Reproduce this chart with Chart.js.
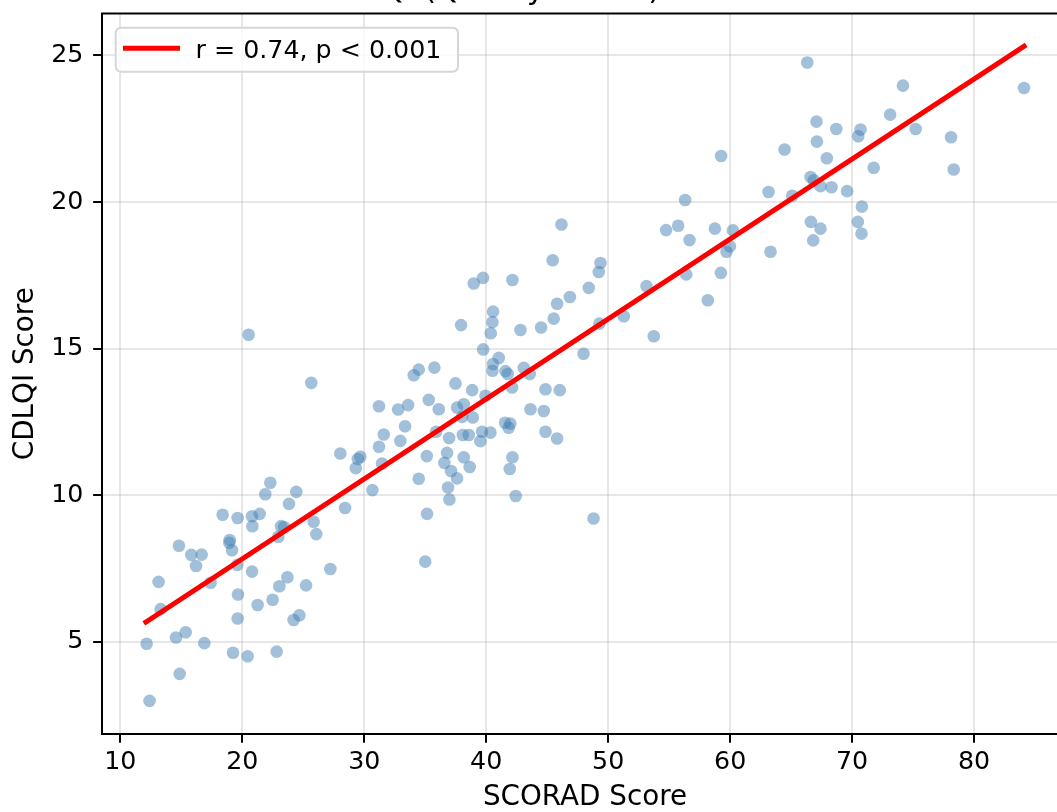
<!DOCTYPE html>
<html>
<head>
<meta charset="utf-8">
<script src="https://cdn.jsdelivr.net/npm/chart.js@4.4.0/dist/chart.umd.min.js"></script>
<style>
  body { margin: 0; background: #fff; }
  #wrap { width: 1057px; height: 812px; overflow: hidden; position: relative; }
  #grafico { display: block; }
</style>
</head>
<body>
<div id="wrap"><canvas id="grafico" width="1080" height="812"></canvas></div>
<script>
// valores
var scoradX = [
  22.30, 21.89, 24.43, 23.83, 18.39, 19.62, 20.80, 21.43, 20.83, 18.97, 18.94, 19.16, 23.18, 23.43, 22.96,
  14.81, 15.82, 16.67, 16.21, 19.60, 17.41, 13.14, 13.31, 20.80, 23.70, 23.04, 25.23, 27.22, 19.65, 22.49,
  21.26, 19.62, 24.21, 24.68, 15.36, 14.57, 12.16, 16.89, 19.24, 20.44, 22.82, 14.87, 12.40,
  20.52,
  25.66, 39.74, 38.98, 42.15, 40.56, 40.51, 40.37, 37.94, 42.81, 44.50, 39.75, 41.03, 40.56, 40.51, 41.58,
  41.77, 43.08, 43.57, 44.86, 42.12, 35.75, 34.47, 34.06, 37.48, 38.85, 35.29, 36.11, 31.21, 32.78, 33.60,
  37.61, 38.16, 38.03, 38.90, 39.94, 43.63, 44.72, 44.86, 41.55, 41.98, 41.84, 39.66, 40.35, 39.52, 38.08,
  38.57, 36.96, 35.89, 33.35, 31.60, 32.96, 31.21, 28.04, 29.68, 29.47, 29.31, 31.46, 35.13, 36.79, 38.16,
  36.57, 38.65, 37.12, 37.61, 42.15, 41.93, 34.47, 30.67, 36.87, 36.98, 42.42, 28.43, 35.15, 25.85, 26.07,
  46.03, 45.81, 48.80,
  59.26, 56.31, 46.17, 54.75, 55.74, 56.67, 58.75, 60.23, 59.98, 59.70, 45.45, 49.37, 49.23, 56.40, 59.24,
  48.41, 46.86, 45.81, 45.54, 53.14, 58.17, 51.28, 49.28, 53.74, 47.98,
  66.32, 74.17, 84.09, 73.12, 75.21, 78.11, 78.33, 67.08, 68.70, 70.69, 70.50, 67.11, 64.46, 67.93, 71.77,
  66.59, 66.86, 67.41, 68.31, 69.59, 63.15, 65.09, 70.80, 66.62, 70.47, 67.41, 70.77, 66.81, 63.31,
  35.00
];
var cdlqiY = [
  10.42, 10.03, 10.11, 9.70, 9.33, 9.22, 9.28, 9.36, 8.94, 8.47, 8.37, 8.12, 8.94, 8.91, 8.58,
  8.27, 7.96, 7.97, 7.58, 7.62, 7.01, 7.04, 6.11, 7.39, 7.20, 6.89, 6.92, 7.48, 6.61, 6.43,
  6.25, 5.79, 5.74, 5.90, 5.32, 5.14, 4.93, 4.95, 4.62, 4.50, 4.66, 3.90, 2.98,
  15.47,
  13.83, 17.41, 17.22, 17.34, 16.26, 15.90, 15.52, 15.80, 15.63, 15.72, 14.97, 14.68, 14.47, 14.24, 14.23,
  14.13, 14.34, 14.13, 13.61, 13.67, 14.35, 14.28, 14.09, 13.81, 13.58, 13.25, 12.93, 13.03, 12.92, 13.07,
  12.99, 13.10, 12.67, 12.65, 13.39, 12.93, 12.87, 12.16, 12.47, 12.44, 12.30, 12.16, 12.13, 11.84, 12.05,
  12.05, 11.95, 12.16, 12.35, 12.07, 11.85, 11.65, 11.42, 11.31, 11.23, 10.92, 11.08, 11.33, 11.44, 11.29,
  11.10, 10.96, 10.82, 10.57, 11.29, 10.89, 10.56, 10.17, 10.26, 9.85, 9.97, 9.56, 9.36, 9.09, 8.67,
  13.58, 11.93, 9.20,
  21.57, 20.07, 19.23, 19.04, 19.19, 18.70, 19.09, 19.03, 18.49, 18.30, 18.01, 17.92, 17.61, 17.53, 17.58,
  17.07, 16.76, 16.53, 16.02, 17.13, 16.65, 16.10, 15.85, 15.42, 14.82,
  24.76, 23.97, 23.89, 22.98, 22.49, 22.21, 21.11, 22.74, 22.49, 22.47, 22.24, 22.06, 21.79, 21.49, 21.17,
  20.85, 20.74, 20.54, 20.50, 20.37, 20.34, 20.21, 19.84, 19.32, 19.32, 19.09, 18.92, 18.69, 18.30,
  7.73
];
// reta de regressao (pontas)
var fitX = [12.1, 84.1];
var fitY = [5.67, 25.31];
var xTicks = [10, 20, 30, 40, 50, 60, 70, 80];
var yTicks = [5, 10, 15, 20, 25];

var titulo = "SCORAD vs CDLQI (Quality of Life)";
var legenda = "r = 0.74, p < 0.001";
var fonte = '"DejaVu Sans", sans-serif';

var pontos = [];
for (var i = 0; i < scoradX.length; i++) {
  pontos.push({ x: scoradX[i], y: cdlqiY[i] });
}
var reta = [];
for (var j = 0; j < fitX.length; j++) {
  reta.push({ x: fitX[j], y: fitY[j] });
}

// moldura de cima/direita, titulo e legenda
var extras = {
  id: 'extras',
  afterDraw: function (chart) {
    var ctx = chart.ctx;
    var a = chart.chartArea;
    ctx.save();
    ctx.strokeStyle = '#000';
    ctx.lineWidth = 2;
    ctx.beginPath();
    ctx.moveTo(a.left - 1, a.top);
    ctx.lineTo(a.right, a.top);
    ctx.lineTo(a.right, a.bottom);
    ctx.stroke();

    ctx.fillStyle = '#000';
    ctx.font = '30.4px ' + fonte;
    ctx.textAlign = 'right';
    ctx.textBaseline = 'alphabetic';
    ctx.fillText(titulo, 660, -1.5);

    // caixa da legenda
    var bx = 115.7, by = 27.7, bw = 342.3, bh = 44, r = 6;
    ctx.beginPath();
    ctx.moveTo(bx + r, by);
    ctx.lineTo(bx + bw - r, by);
    ctx.quadraticCurveTo(bx + bw, by, bx + bw, by + r);
    ctx.lineTo(bx + bw, by + bh - r);
    ctx.quadraticCurveTo(bx + bw, by + bh, bx + bw - r, by + bh);
    ctx.lineTo(bx + r, by + bh);
    ctx.quadraticCurveTo(bx, by + bh, bx, by + bh - r);
    ctx.lineTo(bx, by + r);
    ctx.quadraticCurveTo(bx, by, bx + r, by);
    ctx.closePath();
    ctx.fillStyle = 'rgba(255,255,255,0.8)';
    ctx.fill();
    ctx.strokeStyle = '#d6d6d6';
    ctx.lineWidth = 2;
    ctx.stroke();

    ctx.strokeStyle = 'red';
    ctx.lineWidth = 5;
    ctx.lineCap = 'butt';
    ctx.beginPath();
    ctx.moveTo(123, 48.3);
    ctx.lineTo(180, 48.3);
    ctx.stroke();

    ctx.fillStyle = '#000';
    ctx.font = '25.3px ' + fonte;
    ctx.textAlign = 'left';
    ctx.fillText(legenda, 195.5, 58.3);
    ctx.restore();
  }
};

var contexto = document.getElementById('grafico').getContext('2d');
var grafico = new Chart(contexto, {
  type: 'scatter',
  data: {
    datasets: [{
      type: 'line',
      label: legenda,
      data: reta,
      borderColor: 'red',
      borderWidth: 5,
      borderCapStyle: 'square',
      pointRadius: 0,
      fill: false,
      order: 0
    }, {
      label: 'pacientes',
      data: pontos,
      backgroundColor: 'rgba(70,130,180,0.5)',
      borderWidth: 0,
      pointRadius: 6.3,
      order: 1
    }]
  },
  options: {
    responsive: false,
    animation: false,
    devicePixelRatio: 1,
    events: [],
    layout: { padding: { top: 13.5, right: 12, left: 0, bottom: 0 } },
    plugins: {
      legend: { display: false },
      tooltip: { enabled: false }
    },
    scales: {
      x: {
        type: 'linear',
        min: 8.5,
        max: 87.7,
        afterBuildTicks: function (s) { s.ticks = xTicks.map(function (v) { return { value: v }; }); },
        afterFit: function (s) { s.height = 78; s.paddingLeft = 0; s.paddingRight = 0; },
        ticks: {
          font: { family: fonte, size: 25.3, lineHeight: 1 },
          color: '#000',
          padding: 6.7,
          maxRotation: 0,
          autoSkip: false
        },
        grid: {
          color: 'rgba(176,176,176,0.3)',
          lineWidth: 2,
          tickColor: '#000',
          tickWidth: 2,
          tickLength: 8.85
        },
        border: { color: '#000', width: 2 },
        title: {
          display: true,
          text: 'SCORAD Score',
          color: '#000',
          font: { family: fonte, size: 27.8, lineHeight: 1 },
          padding: { top: 0, bottom: 0 }
        }
      },
      y: {
        type: 'linear',
        min: 1.85,
        max: 26.43,
        afterBuildTicks: function (s) { s.ticks = yTicks.map(function (v) { return { value: v }; }); },
        afterFit: function (s) { s.width = 102; s.paddingTop = 0; s.paddingBottom = 0; },
        ticks: {
          font: { family: fonte, size: 25.3, lineHeight: 1 },
          color: '#000',
          padding: 9.7
        },
        grid: {
          color: 'rgba(176,176,176,0.3)',
          lineWidth: 2,
          tickColor: '#000',
          tickWidth: 2,
          tickLength: 8.85
        },
        border: { color: '#000', width: 2 },
        title: {
          display: true,
          text: 'CDLQI Score',
          color: '#000',
          font: { family: fonte, size: 27.8, lineHeight: 1 },
          padding: { top: 11.9, bottom: 0 }
        }
      }
    }
  },
  plugins: [extras]
});
</script>
</body>
</html>
